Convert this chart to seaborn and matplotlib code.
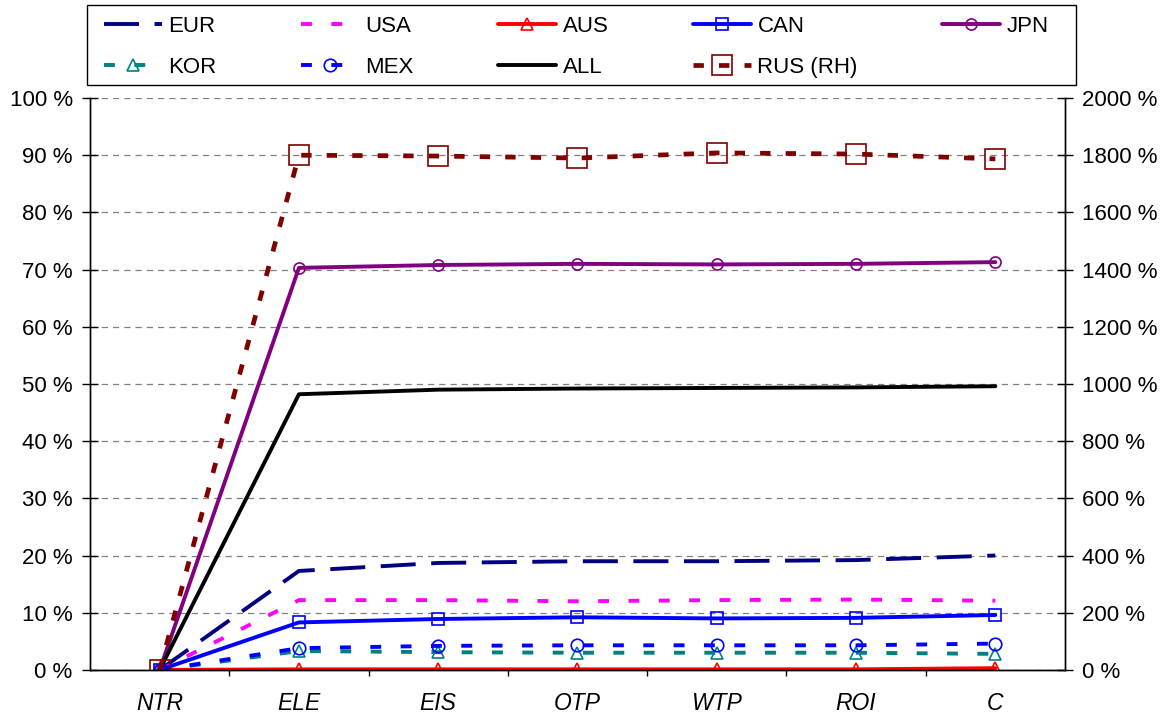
import numpy as np
import pandas as pd
import matplotlib
matplotlib.use("Agg")
import matplotlib.pyplot as plt
from matplotlib.patches import Rectangle
import seaborn as sns

# --- Data (percent) ---
categories = ["NTR", "ELE", "EIS", "OTP", "WTP", "ROI", "C"]
eur = [0, 17.3, 18.7, 19.0, 19.0, 19.2, 20.0]
usa = [0, 12.2, 12.2, 12.0, 12.2, 12.3, 12.1]
aus = [0, 0.1, 0.1, 0.1, 0.1, 0.1, 0.3]
can = [0, 8.3, 8.9, 9.2, 9.0, 9.1, 9.6]
jpn = [0, 70.3, 70.8, 71.0, 70.9, 71.0, 71.3]
kor = [0, 3.3, 3.1, 3.0, 3.0, 3.0, 2.8]
mex = [0, 3.8, 4.2, 4.3, 4.3, 4.3, 4.6]
all_ = [0, 48.2, 49.0, 49.2, 49.3, 49.4, 49.6]
rus = [0, 1800, 1797, 1790, 1808, 1804, 1787]  # right-hand axis

sns.set_theme(style="white")
plt.rcParams['font.family'] = ['Liberation Sans', 'DejaVu Sans']
plt.rcParams['text.color'] = 'black'
plt.rcParams['xtick.color'] = 'black'
plt.rcParams['ytick.color'] = 'black'

fig = plt.figure(figsize=(11.69, 7.18), dpi=100)
ax = fig.add_axes([0.077, 0.067, 0.834, 0.7965])
ax2 = ax.twinx()

x = np.arange(len(categories))

# style per series: (label, values, color, dashes, marker, markersize, lw)
left_series = [
    ("EUR", eur, "#000080", (9, 4), None, 0, 2.8),
    ("USA", usa, "#FF00FF", (2.8, 5), None, 0, 2.8),
    ("AUS", aus, "#FF0000", None, "^", 9, 2.8),
    ("CAN", can, "#0000FF", None, "s", 9, 2.8),
    ("JPN", jpn, "#800080", None, "o", 8, 2.8),
    ("KOR", kor, "#008080", (2.8, 5), "^", 9, 2.8),
    ("MEX", mex, "#0000FF", (2.8, 5), "o", 9, 2.8),
    ("ALL", all_, "#000000", None, None, 0, 2.8),
]

handles = {}
for label, vals, color, dashes, marker, ms, lw in left_series:
    sns.lineplot(x=x, y=vals, ax=ax, color=color, lw=lw, marker=marker,
                 markersize=ms, markerfacecolor="none", markeredgecolor=color,
                 markeredgewidth=1.2, legend=False)
    line = ax.lines[-1]
    if dashes is not None:
        line.set_dashes(dashes)
    handles[label] = line

sns.lineplot(x=x, y=rus, ax=ax2, color="#800000", lw=3.4, marker="s",
             markersize=15, markerfacecolor="none", markeredgecolor="#800000",
             markeredgewidth=1.2, legend=False)
rus_line = ax2.lines[-1]
rus_line.set_dashes((2.2, 3.2))
handles["RUS (RH)"] = rus_line

# axes limits and ticks
ax.set_xlim(-0.5, len(categories) - 0.5)
ax.set_ylim(0, 100)
ax2.set_ylim(0, 2000)
ax.set_yticks(np.arange(0, 101, 10))
ax.set_yticklabels([f"{v} %" for v in range(0, 101, 10)])
ax2.set_yticks(np.arange(0, 2001, 200))
ax2.set_yticklabels([f"{v} %" for v in range(0, 2001, 200)])
ax.set_xticks(x)
ax.set_xticklabels(categories, fontstyle="italic")
ax.set_xticks(np.arange(0.5, len(categories) - 0.5, 1), minor=True)
ax.set_xlabel("")
ax.set_ylabel("")

ax.grid(axis="y", color="#808080", linestyle=(0, (5, 4)), linewidth=0.9)
ax.set_axisbelow(True)

for a in (ax, ax2):
    a.spines["top"].set_visible(False)
    for s in ("left", "right", "bottom"):
        a.spines[s].set_color("black")
        a.spines[s].set_linewidth(1.0)
ax.tick_params(axis="y", which="major", direction="inout", length=11, width=1,
               color="black", labelsize=16, left=True, pad=7)
ax.tick_params(axis="x", which="major", length=0, labelsize=16.5, pad=16)
ax.tick_params(axis="x", which="minor", direction="out", length=4, width=1,
               color="black", bottom=True)
ax2.tick_params(axis="y", direction="inout", length=11, width=1,
                color="black", labelsize=16, right=True, pad=7)

# legend: entries laid out row-wise, frame drawn as a separate box
order = ["EUR", "KOR", "USA", "MEX", "AUS", "ALL", "CAN", "RUS (RH)", "JPN"]
leg = fig.legend([handles[k] for k in order], order, ncol=5,
                 loc="center left", bbox_to_anchor=(0.0812, 0.9345),
                 frameon=False, fontsize=16,
                 handlelength=2.6, handletextpad=0.3, borderaxespad=0,
                 labelspacing=0.9, borderpad=0.4, columnspacing=3.8)
fig.patches.append(Rectangle((0.0744, 0.8816), 0.846, 0.1114,
                             transform=fig.transFigure, fill=False,
                             edgecolor="black", linewidth=1.0))

fig.savefig("out.png", dpi=100)
